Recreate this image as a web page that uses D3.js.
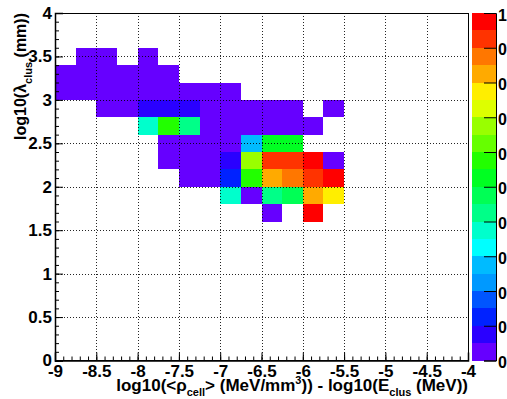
<!DOCTYPE html>
<html><head><meta charset="utf-8">
<script src="https://cdn.jsdelivr.net/npm/d3@7"></script>
<style>
body{margin:0;background:#fff}
svg{display:block}
text{font-family:"Liberation Sans",Arial,Helvetica,sans-serif;font-weight:bold;fill:#000}
</style>
</head><body>
<svg id="chart" width="507" height="399"></svg>
<script>
// ---- data ----
const xRange = [-9, -4];
const yRange = [0, 4];
const zRange = [0, 1];
const binWidthX = 0.25;
const binWidthY = 0.2;

const cellX = [
  -8.75, -8.5, -8.0,
  -9, -8.75, -8.5, -8.25, -8, -7.75,
  -9, -8.75, -8.5, -8.25, -8, -7.75, -7.5, -7.25, -7,
  -8.5, -8.25, -8, -7.75, -7.5, -7.25, -7, -6.75, -6.5, -6.25, -5.75,
  -8, -7.75, -7.5, -7.25, -7, -6.75, -6.5, -6.25, -6,
  -7.75, -7.5, -7.25, -7, -6.75, -6.5, -6.25,
  -7.75, -7.5, -7.25, -7, -6.75, -6.5, -6.25, -6, -5.75,
  -7.5, -7.25, -7, -6.75, -6.5, -6.25, -6, -5.75,
  -7, -6.75, -6.5, -6.25, -6, -5.75,
  -6.5, -6
];
const cellY = [
  3.4, 3.4, 3.4,
  3.2, 3.2, 3.2, 3.2, 3.2, 3.2,
  3.0, 3.0, 3.0, 3.0, 3.0, 3.0, 3.0, 3.0, 3.0,
  2.8, 2.8, 2.8, 2.8, 2.8, 2.8, 2.8, 2.8, 2.8, 2.8, 2.8,
  2.6, 2.6, 2.6, 2.6, 2.6, 2.6, 2.6, 2.6, 2.6,
  2.4, 2.4, 2.4, 2.4, 2.4, 2.4, 2.4,
  2.2, 2.2, 2.2, 2.2, 2.2, 2.2, 2.2, 2.2, 2.2,
  2.0, 2.0, 2.0, 2.0, 2.0, 2.0, 2.0, 2.0,
  1.8, 1.8, 1.8, 1.8, 1.8, 1.8,
  1.6, 1.6
];
const cellZ = [
  0.02, 0.02, 0.02,
  0.02, 0.02, 0.02, 0.02, 0.02, 0.02,
  0.02, 0.02, 0.02, 0.02, 0.02, 0.02, 0.02, 0.02, 0.02,
  0.02, 0.02, 0.07, 0.07, 0.07, 0.02, 0.02, 0.02, 0.02, 0.02, 0.02,
  0.37, 0.57, 0.42, 0.02, 0.02, 0.02, 0.02, 0.02, 0.02,
  0.02, 0.02, 0.02, 0.02, 0.27, 0.52, 0.52,
  0.02, 0.02, 0.02, 0.07, 0.67, 0.92, 0.92, 0.97, 0.02,
  0.02, 0.02, 0.12, 0.57, 0.82, 0.87, 0.92, 1.0,
  0.37, 0.02, 0.42, 0.47, 0.82, 0.77,
  0.02, 0.97
];

const xTicks = [-9, -8.5, -8, -7.5, -7, -6.5, -6, -5.5, -5, -4.5, -4];
const xTickLabels = ["-9", "-8.5", "-8", "-7.5", "-7", "-6.5", "-6", "-5.5", "-5", "-4.5", "-4"];
const yTicks = [0, 0.5, 1, 1.5, 2, 2.5, 3, 3.5, 4];
const yTickLabels = ["0", "0.5", "1", "1.5", "2", "2.5", "3", "3.5", "4"];
const zTicks = [0, 0.1, 0.2, 0.3, 0.4, 0.5, 0.6, 0.7, 0.8, 0.9, 1];
const zTickLabels = ["0", "0", "0", "0", "0", "0", "0", "0", "0", "0", "1"];

const paletteColors = [
  "#6600ff", "#2a00ff", "#0022ff", "#0055ff", "#0099ff",
  "#00bbff", "#00ffff", "#00ffcc", "#00ff88", "#00ff55",
  "#00ff22", "#22ff00", "#66ff00", "#99ff00", "#ddff00",
  "#ffee00", "#ffaa00", "#ff7700", "#ff3300", "#ff0000"
];

// ---- layout ----
const L = 55, R = 468, T = 13, B = 360.5;
const svg = d3.select("#chart");
const x = d3.scaleLinear().domain(xRange).range([L, R]);
const y = d3.scaleLinear().domain(yRange).range([B, T]);
const color = d3.scaleQuantize().domain(zRange).range(paletteColors);

const cells = cellX.map((cx, i) => ({x: cx, y: cellY[i], z: cellZ[i]}));

// cells
svg.append("g").attr("shape-rendering", "crispEdges")
  .selectAll("rect").data(cells).join("rect")
  .attr("x", d => x(d.x))
  .attr("y", d => y(d.y + binWidthY))
  .attr("width", d => x(d.x + binWidthX) - x(d.x))
  .attr("height", d => y(d.y) - y(d.y + binWidthY))
  .attr("fill", d => color(d.z));

// grid (drawn on top)
const grid = svg.append("g").attr("stroke", "#000").attr("stroke-width", 1)
  .attr("stroke-dasharray", "1,2").attr("opacity", 0.85);
grid.selectAll("line.v").data(xTicks.slice(1, -1)).join("line")
  .attr("x1", d => Math.round(x(d)) + 0.5).attr("x2", d => Math.round(x(d)) + 0.5)
  .attr("y1", T).attr("y2", B);
grid.selectAll("line.h").data(yTicks.slice(1, -1)).join("line")
  .attr("y1", d => Math.round(y(d)) + 0.5).attr("y2", d => Math.round(y(d)) + 0.5)
  .attr("x1", L).attr("x2", R);

// frame
svg.append("rect").attr("x", L).attr("y", T).attr("width", R - L).attr("height", B - T)
  .attr("fill", "none").attr("stroke", "#000").attr("stroke-width", 1).attr("shape-rendering", "crispEdges");

// minor ticks
const minorX = d3.range(-9, -4.0001, 0.1).map(v => +v.toFixed(2));
const minorY = d3.range(0, 4.0001, 0.1).map(v => +v.toFixed(2));

const xMinor = svg.append("g").attr("transform", `translate(0,${B})`)
  .call(d3.axisBottom(x).tickValues(minorX).tickSize(-4).tickFormat(""));
xMinor.select(".domain").remove();

const yMinor = svg.append("g").attr("transform", `translate(${L},0)`)
  .call(d3.axisLeft(y).tickValues(minorY).tickSize(-4).tickFormat(""));
yMinor.select(".domain").remove();

// major axes
const xAxis = svg.append("g").attr("transform", `translate(0,${B})`)
  .call(d3.axisBottom(x).tickValues(xTicks).tickSize(-8).tickPadding(5)
    .tickFormat((d, i) => xTickLabels[i]));
xAxis.selectAll("text").attr("font-size", 17).attr("dy", "0.68em");
xAxis.attr("font-family", null).attr("font-size", null);
xAxis.select(".domain").attr("stroke-width", 1.5);

const yAxis = svg.append("g").attr("transform", `translate(${L},0)`)
  .call(d3.axisLeft(y).tickValues(yTicks).tickSize(-8).tickPadding(3)
    .tickFormat((d, i) => yTickLabels[i]));
yAxis.selectAll("text").attr("font-size", 17);
yAxis.attr("font-family", null).attr("font-size", null);
yAxis.select(".domain").attr("stroke-width", 1.5);

svg.selectAll(".tick line").attr("stroke", "#000");

// axis titles
const xTitle = svg.append("text").attr("x", R).attr("y", 391)
  .attr("text-anchor", "end").attr("font-size", 17);
xTitle.append("tspan").text("log10(<\u03c1");
xTitle.append("tspan").attr("font-size", 11).attr("dy", 5).text("cell");
xTitle.append("tspan").attr("dy", -5).text("> (MeV/mm");
xTitle.append("tspan").attr("font-size", 11).attr("dy", -7).text("3");
xTitle.append("tspan").attr("dy", 7).text(")) - log10(E");
xTitle.append("tspan").attr("font-size", 11).attr("dy", 5).text("clus");
xTitle.append("tspan").attr("dy", -5).text(" (MeV))");

const yTitle = svg.append("text").attr("transform", `translate(26,${T}) rotate(-90)`)
  .attr("text-anchor", "end").attr("font-size", 16);
yTitle.append("tspan").text("log10(\u03bb");
yTitle.append("tspan").attr("font-size", 11).attr("dy", 6).text("clus");
yTitle.append("tspan").attr("dy", -6).text(" (mm))");

// color bar
const CL = 472, CR = 496;
const z = d3.scaleLinear().domain(zRange).range([B, T]);
const levels = paletteColors.map((c, i) => ({lo: i / paletteColors.length, hi: (i + 1) / paletteColors.length, c}));
svg.append("g").attr("shape-rendering", "crispEdges")
  .selectAll("rect").data(levels).join("rect")
  .attr("x", CL).attr("width", CR - CL)
  .attr("y", d => z(d.hi)).attr("height", d => z(d.lo) - z(d.hi))
  .attr("fill", d => d.c);

const zAxis = svg.append("g").attr("transform", `translate(${CR},0)`)
  .call(d3.axisRight(z).tickValues(zTicks).tickSize(-12).tickPadding(2)
    .tickFormat((d, i) => zTickLabels[i]));
zAxis.selectAll("text").attr("font-size", 16).attr("dy", "0.45em");
zAxis.attr("font-family", null).attr("font-size", null);
zAxis.select(".domain").attr("stroke-width", 1);
zAxis.selectAll(".tick line").attr("stroke", "#000");
</script>
</body></html>
